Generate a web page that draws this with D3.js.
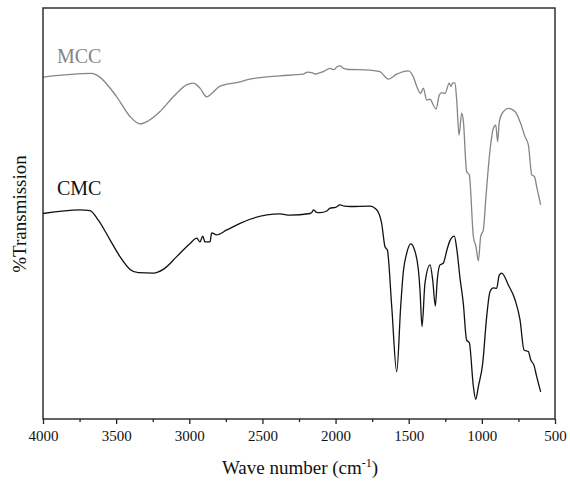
<!DOCTYPE html>
<html>
<head>
<meta charset="utf-8">
<script src="https://cdn.jsdelivr.net/npm/d3@7"></script>
<style>
  body { margin: 0; background: #fff; }
  svg text { font-family: 'Liberation Serif', 'Times New Roman', serif; }
</style>
</head>
<body>
<script>
// spectra: [wave number, %T (arbitrary)]
var mcc = [
  [4000, 83.2], [3667, 84.1], [3624, 83.5], [3496, 78.4], [3405, 73.6], [3337, 71.8],
  [3282, 72.5], [3200, 74.8], [3109, 78.4], [3018, 81.3], [2973, 81.7], [2927, 80.5],
  [2881, 78.4], [2847, 79.2], [2790, 81.0], [2653, 82.0], [2585, 82.7], [2380, 83.5],
  [2223, 83.9], [2190, 84.4], [2163, 84.3], [2140, 83.9], [2120, 84.1], [2080, 84.6],
  [2038, 85.3], [2010, 85.0], [1990, 85.7], [1970, 85.9], [1945, 85.3], [1924, 85.1],
  [1765, 84.9], [1696, 84.5], [1640, 82.7], [1582, 83.9], [1503, 84.7], [1469, 83.3],
  [1445, 80.9], [1418, 79.2], [1400, 80.5], [1377, 77.6], [1354, 77.8], [1332, 76.4],
  [1313, 75.4], [1291, 78.8], [1274, 79.4], [1252, 79.2], [1223, 81.7], [1211, 80.9],
  [1199, 81.8], [1184, 81.7], [1172, 77.6], [1156, 69.1], [1138, 74.4], [1127, 72.7],
  [1104, 60.2], [1086, 59.4], [1058, 44.4], [1040, 41.9], [1024, 38.5], [1008, 44.4],
  [990, 46.0], [972, 54.1], [944, 65.5], [922, 70.7], [905, 71.5], [892, 67.5],
  [881, 72.3], [853, 74.8], [819, 75.6], [773, 74.8], [739, 72.3], [705, 68.7],
  [682, 66.7], [659, 59.4], [641, 59.0], [625, 56.5], [598, 52.1]
]

var cmc = [
  [4000, 50.0], [3747, 50.9], [3679, 50.7], [3622, 48.4], [3542, 43.6], [3474, 39.5],
  [3405, 36.4], [3349, 35.6], [3246, 35.5], [3178, 36.4], [3086, 39.5], [2995, 42.7],
  [2949, 44.0], [2927, 43.1], [2908, 44.5], [2893, 43.1], [2858, 43.1], [2847, 45.3],
  [2813, 44.8], [2744, 46.0], [2653, 47.6], [2585, 48.6], [2380, 49.9], [2312, 49.6],
  [2175, 50.0], [2160, 50.4], [2152, 50.9], [2130, 50.3], [2106, 50.2], [2060, 50.6],
  [2038, 51.3], [2000, 51.5], [1970, 52.1], [1940, 51.8], [1901, 51.7], [1765, 51.8],
  [1719, 50.9], [1685, 47.6], [1662, 41.9], [1646, 41.1], [1616, 27.3], [1582, 11.5],
  [1555, 27.3], [1537, 35.8], [1514, 40.3], [1486, 42.6], [1464, 41.5], [1434, 36.3],
  [1423, 31.4], [1409, 22.5], [1389, 33.0], [1354, 37.5], [1336, 33.8], [1318, 27.5],
  [1305, 33.8], [1286, 37.5], [1264, 37.9], [1236, 41.5], [1218, 43.4], [1188, 44.5],
  [1172, 41.5], [1149, 34.2], [1127, 28.2], [1104, 19.2], [1086, 18.6], [1058, 7.9],
  [1042, 4.8], [1024, 7.9], [994, 13.6], [967, 24.9], [944, 31.0], [922, 31.9],
  [899, 31.8], [881, 35.0], [864, 35.5], [819, 32.6], [773, 29.0], [739, 24.1],
  [712, 16.8], [682, 16.4], [666, 14.4], [644, 13.1], [625, 10.3], [598, 6.6]
]

var seriesNames = ['MCC', 'CMC']
var seriesColors = ['#858585', '#111111']
var xTicks = [4000, 3500, 3000, 2500, 2000, 1500, 1000, 500]
var xMinorTicks = [3750, 3250, 2750, 2250, 1750, 1250, 750]

var w = 570
var h = 488
// plot box (note: "top" is reserved on window, so use plotTop etc.)
var plotLeft = 43, plotTop = 8, plotRight = 555, plotBottom = 419

var svg = d3.select('body')
  .append('svg')
  .attr('width', w)
  .attr('height', h)

var xScale = d3.scaleLinear()
  .domain([4000, 500])
  .range([plotLeft, plotRight])

var yScale = d3.scaleLinear()
  .domain([0, 100])
  .range([plotBottom, plotTop])

var line = d3.line()
  .x(function (d) { return xScale(d[0]) })
  .y(function (d) { return yScale(d[1]) })
  .curve(d3.curveMonotoneX)

// spectra
;[mcc, cmc].forEach(function (data, i) {
  svg.append('path')
    .datum(data)
    .attr('d', line)
    .attr('fill', 'none')
    .attr('stroke', seriesColors[i])
    .attr('stroke-width', 1.3)
    .attr('stroke-linejoin', 'round')
})

// series labels
svg.append('text')
  .attr('x', 57).attr('y', 63)
  .attr('font-size', '20px')
  .attr('fill', seriesColors[0])
  .text(seriesNames[0])

svg.append('text')
  .attr('x', 57).attr('y', 195)
  .attr('font-size', '20px')
  .attr('fill', seriesColors[1])
  .text(seriesNames[1])

// frame
svg.append('rect')
  .attr('x', plotLeft).attr('y', plotTop)
  .attr('width', plotRight - plotLeft).attr('height', plotBottom - plotTop)
  .attr('fill', 'none')
  .attr('stroke', '#222')
  .attr('stroke-width', 1.4)

// x axis
var xAxis = d3.axisBottom(xScale)
  .tickValues(xTicks)
  .tickSize(5)
  .tickFormat(d3.format('d'))

var gx = svg.append('g')
  .attr('transform', 'translate(0,' + plotBottom + ')')
  .call(xAxis)
gx.select('.domain').remove()
gx.selectAll('line').attr('stroke', '#222').attr('stroke-width', 1.3)
gx.selectAll('text')
  .style('font-family', "'Liberation Serif', serif")
  .attr('font-size', '15px')
  .attr('fill', '#111')
  .attr('dy', '0.95em')

svg.append('g')
  .attr('transform', 'translate(0,' + plotBottom + ')')
  .call(d3.axisBottom(xScale).tickValues(xMinorTicks).tickSize(3).tickFormat(''))
  .call(function (g) { g.select('.domain').remove() })
  .selectAll('line').attr('stroke', '#222').attr('stroke-width', 1.3)

// axis titles
var xt = svg.append('text')
  .attr('x', 300).attr('y', 474)
  .attr('text-anchor', 'middle')
  .attr('font-size', '19px')
  .attr('fill', '#111')
xt.append('tspan').text('Wave number (cm')
xt.append('tspan').attr('font-size', '12px').attr('dy', '-7').text('-1')
xt.append('tspan').attr('dy', '7').text(')')

svg.append('text')
  .attr('transform', 'translate(26,214) rotate(-90)')
  .attr('text-anchor', 'middle')
  .attr('font-size', '19px')
  .attr('fill', '#111')
  .text('%Transmission')
</script>
</body>
</html>
